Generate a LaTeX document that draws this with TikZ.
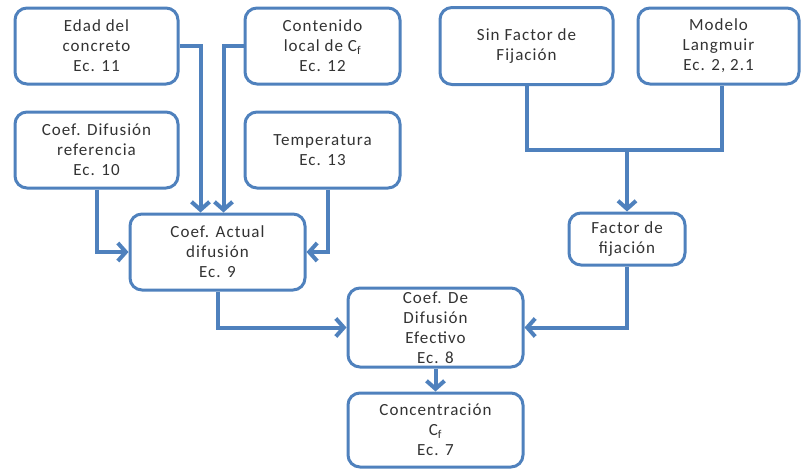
\documentclass[tikz,border=0pt]{standalone}
\usepackage{fontspec}
\setmainfont{Carlito}[LetterSpace=6]
\usepackage{tikz}
\usetikzlibrary{arrows.meta,positioning}

\definecolor{flowblue}{RGB}{79,129,189}

\begin{document}
\begin{tikzpicture}[x=1pt, y=-1pt,
    box/.style={draw=flowblue, line width=3pt, rounded corners=12pt, fill=white,
        align=center, inner sep=0pt, text=black!80,
        font=\fontsize{17}{20}\selectfont},
    plain/.style={flowblue, line width=4pt},
    link/.style={plain, -{Straight Barb[length=8pt, width=18pt]}}]
    \useasboundingbox (0,0) rectangle (801,469);

    % Inputs of the actual diffusion coefficient
    \node[box, minimum width=163pt, minimum height=76pt] (edad) at (96.5,46) {Edad del\\concreto\\Ec. 11};
    \node[box, minimum width=155pt, minimum height=76pt] (conten) at (322.5,46) {Contenido\\local de C\textsubscript{f}\\Ec. 12};
    \node[box, minimum width=163pt, minimum height=76pt] (coefref) at (96.5,150) {Coef. Difusión\\referencia\\Ec. 10};
    \node[box, minimum width=155pt, minimum height=76pt] (temp) at (322.5,150) {Temperatura\\Ec. 13};

    % Binding models
    \node[box, minimum width=173pt, minimum height=77pt] (sinf) at (526.5,46) {Sin Factor de\\Fijación};
    \node[box, minimum width=161pt, minimum height=76pt] (langm) at (718.5,46) {Modelo\\Langmuir\\Ec. 2, 2.1};
    \node[box, minimum width=116pt, minimum height=52pt] (factor) at (627,239) {Factor de\\fijación};

    % Coefficients and result
    \node[box, minimum width=175pt, minimum height=76pt] (actual) at (217.5,252) {Coef. Actual\\difusión\\Ec. 9};
    \node[box, minimum width=175pt, minimum height=79pt] (efect) at (435.5,327.5) {Coef. De\\Difusión\\Efectivo\\Ec. 8};
    \node[box, minimum width=175pt, minimum height=74pt] (conc) at (435.5,430) {Concentración\\C\textsubscript{f}\\Ec. 7};

    % Connectors
    \draw[link] (edad.east) -| ([xshift=-17pt]actual.north);
    \draw[link] (conten.west) -| ([xshift=6pt]actual.north);
    \draw[link] (coefref.south) |- (actual.west);
    \draw[link] ([xshift=5pt]temp.south) |- (actual.east);

    \coordinate (fork) at (627,150);
    \draw[plain] (sinf.south) |- (fork) -| ([xshift=3pt]langm.south);
    \draw[link] (fork) -- (factor.north);

    \draw[link] (actual.south) |- (efect.west);
    \draw[link] (factor.south) |- (efect.east);
    \draw[link] (efect.south) -- (conc.north);
\end{tikzpicture}
\end{document}
